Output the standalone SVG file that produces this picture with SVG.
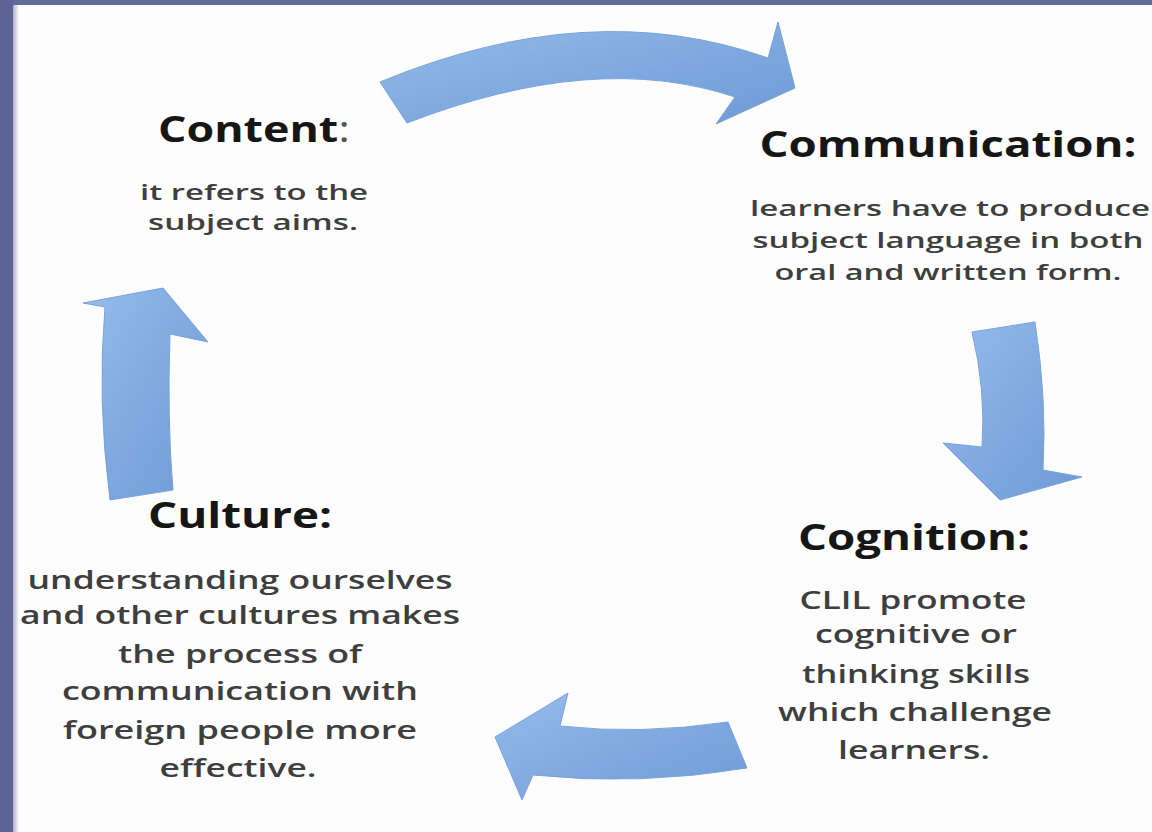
<svg xmlns="http://www.w3.org/2000/svg" width="1152" height="832" viewBox="0 0 1152 832">
  <defs>
    <linearGradient id="arrowFill" x1="0" y1="0" x2="1" y2="1">
      <stop offset="0" stop-color="#95bcea"/>
      <stop offset="0.5" stop-color="#80aae0"/>
      <stop offset="1" stop-color="#6e9ad5"/>
    </linearGradient>
    <linearGradient id="edgeFade" x1="0" y1="0" x2="1" y2="0">
      <stop offset="0" stop-color="#5c6296"/>
      <stop offset="1" stop-color="#5c6296" stop-opacity="0"/>
    </linearGradient>
    <style>
      .arrow { fill: url(#arrowFill); stroke: #7aa3d9; stroke-width: 1; stroke-linejoin: round; }
      .head { font-family: "Open Sans", "Liberation Sans", sans-serif; font-weight: 700; font-size: 36px; fill: #161616; text-anchor: middle; }
      .body { font-family: "Open Sans", "Liberation Sans", sans-serif; font-weight: 600; font-size: 25px; fill: #3e3e3e; text-anchor: middle; }
      .small { font-size: 22px; }
      .colon { font-weight: 400; fill: #555555; }
    </style>
  </defs>

  <!-- slide background with frame on the top and left -->
  <rect x="0" y="0" width="1152" height="832" fill="#fdfdfd"/>
  <rect x="0" y="0" width="1152" height="5" fill="#646a99"/>
  <rect x="0" y="0" width="13" height="832" fill="#5c6296"/>
  <rect x="13" y="0" width="6" height="832" fill="url(#edgeFade)" opacity="0.5"/>

  <!-- curved cycle arrows -->
  <g id="connectors">
    <path id="arrow-content-communication" class="arrow" d="M380,82 Q590,-5 768,58 L778,22 L795,88 L716,124 L735,97 Q595,50 407,123 Z"/>
    <path id="arrow-communication-cognition" class="arrow" d="M972,332 L1035,322 Q1047,400 1043,470 L1082,477 L1000,500 L943,443 L982,447 Q986,390 972,332 Z"/>
    <path id="arrow-cognition-culture" class="arrow" d="M728,722 Q640,735 560,726 L568,693 L495,737 L522,800 L533,775 Q640,786 747,768 Z"/>
    <path id="arrow-culture-content" class="arrow" d="M110,500 Q97,400 105,307 L83,303 L163,288 L208,342 L170,334 Q167,420 173,490 Z"/>
  </g>

  <g id="content">
    <text class="head" x="254" y="142" textLength="192" lengthAdjust="spacingAndGlyphs">Content<tspan class="colon">:</tspan></text>
    <text class="body small" x="254" y="200" textLength="228" lengthAdjust="spacingAndGlyphs">it refers to the</text>
    <text class="body small" x="253" y="230" textLength="210" lengthAdjust="spacingAndGlyphs">subject aims.</text>
  </g>

  <g id="communication">
    <text class="head" x="948" y="157" textLength="377" lengthAdjust="spacingAndGlyphs">Communication:</text>
    <text class="body small" x="950" y="216" textLength="400" lengthAdjust="spacingAndGlyphs">learners have to produce</text>
    <text class="body small" x="948" y="248" textLength="391" lengthAdjust="spacingAndGlyphs">subject language in both</text>
    <text class="body small" x="948" y="280" textLength="347" lengthAdjust="spacingAndGlyphs">oral and written form.</text>
  </g>

  <g id="cognition">
    <text class="head" x="914" y="550" textLength="232" lengthAdjust="spacingAndGlyphs">Cognition:</text>
    <text class="body" x="913" y="609" textLength="227" lengthAdjust="spacingAndGlyphs">CLIL promote</text>
    <text class="body" x="916" y="643" textLength="202" lengthAdjust="spacingAndGlyphs">cognitive or</text>
    <text class="body" x="916" y="683" textLength="228" lengthAdjust="spacingAndGlyphs">thinking skills</text>
    <text class="body" x="915" y="721" textLength="274" lengthAdjust="spacingAndGlyphs">which challenge</text>
    <text class="body" x="914" y="759" textLength="152" lengthAdjust="spacingAndGlyphs">learners.</text>
  </g>

  <g id="culture">
    <text class="head" x="240" y="528" textLength="184" lengthAdjust="spacingAndGlyphs">Culture:</text>
    <text class="body" x="240" y="589" textLength="425" lengthAdjust="spacingAndGlyphs">understanding ourselves</text>
    <text class="body" x="240" y="624" textLength="440" lengthAdjust="spacingAndGlyphs">and other cultures makes</text>
    <text class="body" x="240" y="663" textLength="244" lengthAdjust="spacingAndGlyphs">the process of</text>
    <text class="body" x="240" y="700" textLength="356" lengthAdjust="spacingAndGlyphs">communication with</text>
    <text class="body" x="240" y="739" textLength="354" lengthAdjust="spacingAndGlyphs">foreign people more</text>
    <text class="body" x="238" y="777" textLength="157" lengthAdjust="spacingAndGlyphs">effective.</text>
  </g>
</svg>
